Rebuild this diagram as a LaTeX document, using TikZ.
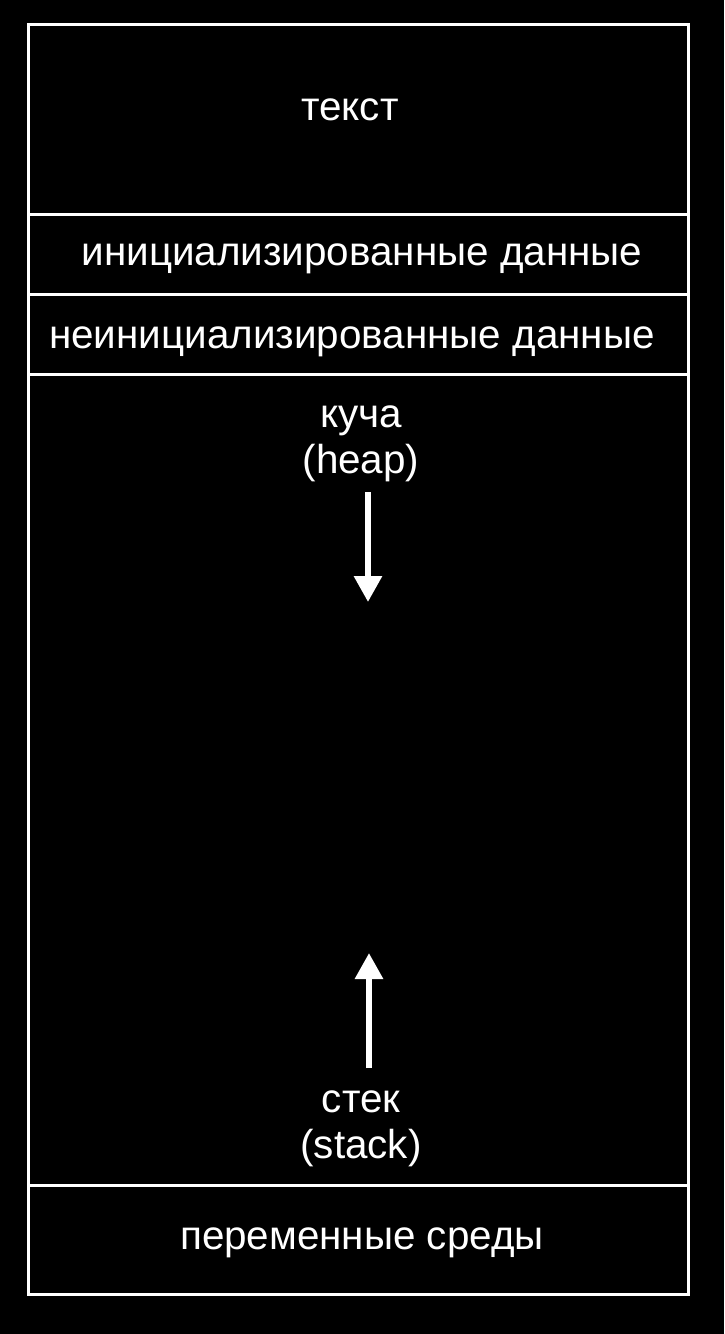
\documentclass[tikz,border=0pt]{standalone}
\usepackage{fontspec}
\setmainfont{Liberation Sans}
\usetikzlibrary{arrows.meta}

\begin{document}
\begin{tikzpicture}[x=0.5pt,y=-0.5pt,
  seg/.style={rectangle,draw=white,line width=1.5pt,inner sep=0pt,minimum width=330pt},
  lbl/.style={text=white,inner sep=0pt,align=center,anchor=base,font=\fontsize{20.2}{23}\selectfont},
  growarrow/.style={draw=white,line width=3pt,-{Triangle[width=13.5pt,length=13pt]}}]
%Background
\fill[black] (0,0) rectangle (724,1334);
%Segment Boxes
\node at (358,119) [seg,minimum height=95pt] (TextSeg) {};
\node at (358,254) [seg,minimum height=40pt] (DataSeg) {};
\node at (358,334) [seg,minimum height=40pt] (BssSeg) {};
\node at (358,779.5) [seg,minimum height=405.5pt] (HeapStackSeg) {};
\node at (358,1239.5) [seg,minimum height=54.5pt] (EnvSeg) {};
%Segment Labels (at baselines)
\node at (350,120) [lbl] (TextLbl) {текст};
\node at (362,265) [lbl] (DataLbl) {инициализированные данные};
\node at (352,348) [lbl] (BssLbl) {неинициализированные данные};
\node at (361,473) [lbl] (HeapLbl) {куча\\(heap)};
\node at (361,1158) [lbl] (StackLbl) {стек\\(stack)};
\node at (362,1249) [lbl] (EnvLbl) {переменные среды};
%Growth Arrows
\coordinate (HeapTop) at (368,492);
\coordinate (HeapTip) at (368,602);
\coordinate (StackBot) at (369,1068);
\coordinate (StackTip) at (369,953);
\draw [growarrow] (HeapTop) -- (HeapTip);
\draw [growarrow] (StackBot) -- (StackTip);
\end{tikzpicture}
\end{document}
